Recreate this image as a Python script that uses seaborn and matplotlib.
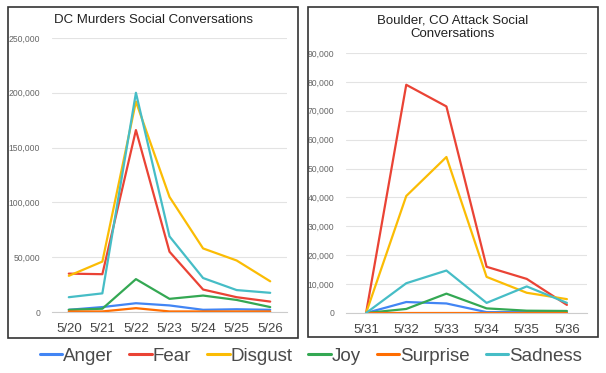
import matplotlib
matplotlib.use("Agg")
import matplotlib.pyplot as plt
import matplotlib.patches as mpatches
from matplotlib.ticker import FuncFormatter, FixedLocator
from matplotlib.lines import Line2D
import seaborn as sns
import pandas as pd

sns.set_style("white")
plt.rcParams['font.family'] = ['Liberation Sans', 'DejaVu Sans']

emotions = ["Anger", "Fear", "Disgust", "Joy", "Surprise", "Sadness"]
colors = ["#4285F4", "#EA4335", "#FBBC04", "#34A853", "#FF6D01", "#46BDC6"]

dc_dates = ["5/20", "5/21", "5/22", "5/23", "5/24", "5/25", "5/26"]
dc_anger = [2000, 4500, 8000, 6000, 2000, 2500, 2000]
dc_fear = [35000, 34500, 166000, 55000, 20500, 13500, 9500]
dc_disgust = [33000, 46000, 192000, 105000, 58000, 47000, 28000]
dc_joy = [2000, 3000, 30000, 12000, 15000, 11000, 4500]
dc_surprise = [500, 500, 3500, 500, 500, 500, 500]
dc_sadness = [13500, 17000, 200000, 69000, 31000, 20000, 17500]

bo_dates = ["5/31", "5/32", "5/33", "5/34", "5/35", "5/36"]
bo_anger = [0, 3800, 3300, 300, 300, 300]
bo_fear = [0, 79000, 71500, 16000, 11800, 2800]
bo_disgust = [0, 40500, 54000, 12500, 7000, 4800]
bo_joy = [0, 1400, 6700, 1600, 800, 700]
bo_surprise = [0, 0, 0, 0, 0, 0]
bo_sadness = [0, 10300, 14700, 3500, 9200, 3500]


def long_df(dates, series):
    rows = []
    for name, vals in zip(emotions, series):
        for i, (d, v) in enumerate(zip(dates, vals)):
            rows.append({"pos": i, "date": d, "emotion": name, "value": v})
    return pd.DataFrame(rows)


dc_df = long_df(dc_dates, [dc_anger, dc_fear, dc_disgust, dc_joy, dc_surprise, dc_sadness])
bo_df = long_df(bo_dates, [bo_anger, bo_fear, bo_disgust, bo_joy, bo_surprise, bo_sadness])

W, H = 606, 373
fig = plt.figure(figsize=(W / 100, H / 100), dpi=100)
fig.patch.set_facecolor("white")


def fx(px):
    return px / W


def fy(py):
    return 1 - py / H


palette = dict(zip(emotions, colors))


def panel(df, dates, left, right, top, bottom, ymax, ystep):
    ax = fig.add_axes([fx(left), fy(bottom), fx(right) - fx(left), fy(top) - fy(bottom)])
    sns.lineplot(data=df, x="pos", y="value", hue="emotion", palette=palette,
                 hue_order=emotions, ax=ax, linewidth=1.6, legend=False, sort=False)
    n = len(dates)
    ax.set_xlim(-0.5, n - 0.5)
    ax.set_ylim(0, ymax)
    ax.set_yticks(list(range(0, ymax + 1, ystep)))
    ax.yaxis.set_major_formatter(FuncFormatter(lambda v, p: f"{int(v):,}"))
    ax.set_xticks(range(n))
    ax.set_xticklabels(dates)
    ax.xaxis.set_minor_locator(FixedLocator([i + 0.5 for i in range(-1, n)]))
    ax.tick_params(axis="x", which="major", length=0, labelsize=9.5, labelcolor="#444444", pad=8)
    ax.tick_params(axis="x", which="minor", length=4, color="#cccccc", width=0.8)
    ax.tick_params(axis="y", length=0, labelsize=6.2, labelcolor="#666666", pad=8.5)
    ax.grid(axis="y", color="#e3e3e3", linewidth=0.8)
    ax.set_axisbelow(True)
    for s in ["top", "right", "left"]:
        ax.spines[s].set_visible(False)
    ax.spines["bottom"].set_color("#cccccc")
    ax.spines["bottom"].set_linewidth(0.8)
    ax.set_xlabel("")
    ax.set_ylabel("")
    return ax


ax1 = panel(dc_df, dc_dates, 52, 287, 38, 312, 250000, 50000)
ax2 = panel(bo_df, bo_dates, 346, 587, 53, 313, 90000, 10000)

fig.text(fx(154), fy(20), "DC Murders Social Conversations", ha="center", va="center",
         fontsize=9.5, color="#222222")
fig.text(fx(453), fy(27.5), "Boulder, CO Attack Social\nConversations", ha="center", va="center",
         fontsize=9.5, color="#222222", linespacing=1.2)

# panel borders
for (l, r, t, b) in [(8, 298, 7, 338), (308, 598, 7, 337)]:
    fig.patches.append(mpatches.Rectangle((fx(l), fy(b)), fx(r) - fx(l), fy(t) - fy(b),
                                          transform=fig.transFigure, fill=False,
                                          edgecolor="#333333", linewidth=1.2))

handles = [Line2D([0], [0], color=c, lw=2.2) for c in colors]
fig.legend(handles, emotions, loc="center", bbox_to_anchor=(fx(311), fy(356)), ncol=6,
           frameon=False, fontsize=13.5, handlelength=1.2, handletextpad=0.05,
           columnspacing=0.85, labelcolor="#4a4a4a")

fig.savefig("out.png", dpi=100, facecolor="white")
